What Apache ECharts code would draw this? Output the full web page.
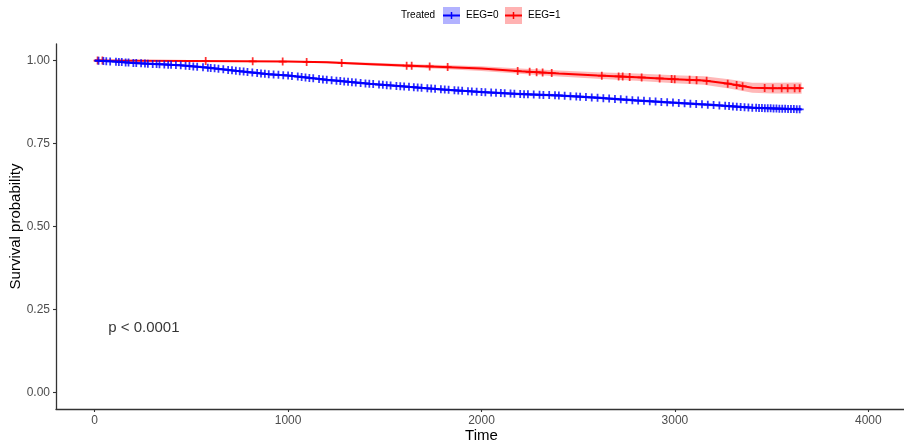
<!DOCTYPE html>
<html>
<head>
<meta charset="utf-8">
<script src="https://cdn.jsdelivr.net/npm/echarts@6/dist/echarts.min.js"></script>
<style>html,body{margin:0;padding:0;background:#fff}#c{width:904px;height:442px}</style>
</head>
<body>
<div id="c"></div>
<script>
// ---- data ----
var xTicks = [0, 1000, 2000, 3000, 4000];
var yTicks = [0, 0.25, 0.5, 0.75, 1];
var groupNames = ['EEG=0', 'EEG=1'];

var blueTime = [0, 100, 200, 300, 440, 600, 750, 900, 1000, 1200, 1420, 1600, 1800, 2000, 2200, 2400, 2600, 2800, 3000, 3200, 3400, 3550, 3655];
var blueSurv = [1.0, 0.997, 0.993, 0.99, 0.986, 0.978, 0.968, 0.959, 0.955, 0.942, 0.930, 0.922, 0.913, 0.905, 0.899, 0.895, 0.888, 0.880, 0.873, 0.866, 0.858, 0.855, 0.853];
var blueLow  = [1.0, 0.996, 0.992, 0.988, 0.984, 0.976, 0.966, 0.956, 0.952, 0.939, 0.927, 0.919, 0.910, 0.902, 0.895, 0.891, 0.884, 0.876, 0.869, 0.862, 0.854, 0.851, 0.848];
var blueHigh = [1.0, 0.998, 0.994, 0.992, 0.988, 0.980, 0.970, 0.962, 0.958, 0.945, 0.933, 0.925, 0.916, 0.908, 0.903, 0.899, 0.892, 0.884, 0.877, 0.870, 0.862, 0.859, 0.858];

var redTime = [0, 500, 1000, 1200, 1400, 1600, 1800, 2000, 2200, 2400, 2600, 2800, 3000, 3150, 3280, 3400, 3500, 3655];
var redSurv = [1.0, 0.999, 0.997, 0.995, 0.990, 0.985, 0.981, 0.976, 0.968, 0.961, 0.955, 0.950, 0.944, 0.940, 0.930, 0.918, 0.917, 0.917];
var redLow  = [1.0, 0.998, 0.995, 0.992, 0.986, 0.980, 0.975, 0.969, 0.960, 0.952, 0.945, 0.939, 0.932, 0.927, 0.916, 0.903, 0.901, 0.900];
var redHigh = [1.0, 1.0, 0.999, 0.998, 0.994, 0.990, 0.987, 0.983, 0.976, 0.970, 0.965, 0.961, 0.956, 0.953, 0.944, 0.933, 0.933, 0.934];

var blueCensor = [20, 45, 60, 80, 110, 125, 140, 160, 175, 200, 215, 240, 260, 275, 300, 320, 335, 360, 380, 395, 420, 445, 470, 490, 510, 530, 560, 585, 600, 620, 640, 665, 690, 710, 730, 750, 770, 790, 815, 840, 860, 880, 900, 925, 950, 975, 1000, 1020, 1050, 1070, 1090, 1110, 1130, 1160, 1180, 1200, 1225, 1250, 1270, 1290, 1310, 1330, 1350, 1375, 1400, 1420, 1440, 1470, 1490, 1510, 1530, 1560, 1580, 1600, 1625, 1650, 1670, 1690, 1720, 1740, 1760, 1790, 1810, 1830, 1860, 1880, 1900, 1930, 1950, 1975, 2000, 2020, 2050, 2075, 2100, 2120, 2150, 2170, 2200, 2220, 2240, 2270, 2300, 2320, 2350, 2380, 2400, 2430, 2460, 2490, 2510, 2540, 2570, 2600, 2630, 2660, 2690, 2720, 2750, 2780, 2810, 2840, 2870, 2900, 2930, 2960, 2990, 3020, 3050, 3080, 3110, 3140, 3170, 3200, 3230, 3260, 3280, 3300, 3320, 3340, 3360, 3380, 3400, 3420, 3435, 3450, 3465, 3480, 3495, 3510, 3525, 3540, 3555, 3570, 3585, 3600, 3615, 3630, 3645];
var redCensor = [15, 40, 574, 817, 972, 1096, 1277, 1613, 1639, 1732, 1825, 2187, 2249, 2285, 2316, 2363, 2622, 2709, 2730, 2766, 2828, 2921, 2983, 2999, 3076, 3112, 3164, 3273, 3319, 3350, 3464, 3506, 3552, 3583, 3619, 3645];

var pText = 'p < 0.0001';
var pPos = [70, 0.196];

// ---- helpers ----
function zip(a, b) { return a.map(function (v, i) { return [v, b[i]]; }); }
function zip3(a, b, c) { return a.map(function (v, i) { return [v, b[i], c[i]]; }); }
function onCurve(ts, time, surv) {
  return ts.map(function (t) {
    var i = 0;
    while (i < time.length - 2 && time[i + 1] < t) i++;
    var f = (t - time[i]) / (time[i + 1] - time[i]);
    return [t, surv[i] + f * (surv[i + 1] - surv[i])];
  });
}
var plusPath = 'path://M-1.1,-5 L1.1,-5 L1.1,-1.1 L5,-1.1 L5,1.1 L1.1,1.1 L1.1,5 L-1.1,5 L-1.1,1.1 L-5,1.1 L-5,-1.1 L-1.1,-1.1 Z';
var BLUE = '#0000FF', RED = '#FF0000';
var axisCol = '#333333', labCol = '#4D4D4D';
var FONT = '"Liberation Sans", Arial, sans-serif';

function band(time, lo, hi, col) {
  var rows = zip3(time, lo, hi);
  return {
    type: 'custom', data: rows, silent: true, z: 1,
    encode: { x: 0, y: [1, 2] },
    renderItem: function (params, api) {
      if (params.dataIndex !== 0) return null;
      var pts = [], i;
      for (i = 0; i < rows.length; i++) pts.push(api.coord([rows[i][0], rows[i][2]]));
      for (i = rows.length - 1; i >= 0; i--) pts.push(api.coord([rows[i][0], rows[i][1]]));
      return { type: 'polygon', shape: { points: pts }, style: { fill: col, stroke: 'none' } };
    }
  };
}

var chart = echarts.init(document.getElementById('c'), null, { renderer: 'canvas' });
var series = [
  band(redTime, redLow, redHigh, 'rgba(255,0,0,0.28)'),
  band(blueTime, blueLow, blueHigh, 'rgba(0,0,255,0.25)'),
  { type: 'line', data: zip(redTime, redSurv), symbol: 'none', lineStyle: { color: RED, width: 2 }, z: 3 },
  { type: 'scatter', data: onCurve(redCensor, redTime, redSurv), symbol: plusPath, symbolSize: 8, itemStyle: { color: RED }, z: 4 },
  { type: 'line', data: zip(blueTime, blueSurv), symbol: 'none', lineStyle: { color: BLUE, width: 2 }, z: 5 },
  { type: 'scatter', data: onCurve(blueCensor, blueTime, blueSurv), symbol: plusPath, symbolSize: 8, itemStyle: { color: BLUE }, z: 6 },
  { type: 'scatter', data: [pPos], symbolSize: 0, silent: true,
    label: { show: true, formatter: pText, position: 'right', distance: 0, color: '#000', fontSize: 15, fontFamily: FONT }, z: 7 }
];

chart.setOption({
  animation: false,
  backgroundColor: '#fff',
  grid: { left: 56, top: 44, width: 851, height: 365, containLabel: false, outerBoundsMode: 'none' },
  xAxis: {
    type: 'value', min: -200, max: 4200,
    splitLine: { show: false },
    axisLine: { show: true, onZero: false, lineStyle: { color: axisCol, width: 1.3 } },
    axisTick: { show: true, length: 3, customValues: xTicks, lineStyle: { color: axisCol, width: 1.1 } },
    axisLabel: { customValues: xTicks, color: labCol, fontSize: 12, fontFamily: FONT, margin: 6,
      formatter: function (v) { return String(v); } },
    name: 'Time', nameLocation: 'middle', nameGap: 19, nameMoveOverlap: false,
    nameTextStyle: { color: '#000', fontSize: 15, fontFamily: FONT }
  },
  yAxis: {
    type: 'value', min: -0.05, max: 1.05,
    splitLine: { show: false },
    axisLine: { show: true, onZero: false, lineStyle: { color: axisCol, width: 1.3 } },
    axisTick: { show: true, length: 3, customValues: yTicks, lineStyle: { color: axisCol, width: 1.1 } },
    axisLabel: { customValues: yTicks, color: labCol, fontSize: 12, fontFamily: FONT, margin: 6,
      formatter: function (v) { return v.toFixed(2); } },
    name: 'Survival probability', nameLocation: 'middle', nameGap: 33, nameRotate: 90, nameMoveOverlap: false,
    nameTextStyle: { color: '#000', fontSize: 15, fontFamily: FONT }
  },
  series: series,
  graphic: [
    { type: 'text', left: 401, top: 10, style: { text: 'Treated', fontSize: 10, fontFamily: FONT, fill: '#000' } },
    { type: 'rect', shape: { x: 443, y: 7, width: 17, height: 17 }, style: { fill: 'rgba(0,0,255,0.3)' } },
    { type: 'line', shape: { x1: 443, y1: 15.5, x2: 460, y2: 15.5 }, style: { stroke: BLUE, lineWidth: 2 } },
    { type: 'line', shape: { x1: 451.5, y1: 12, x2: 451.5, y2: 19 }, style: { stroke: BLUE, lineWidth: 1.5 } },
    { type: 'text', left: 466, top: 10, style: { text: groupNames[0], fontSize: 10, fontFamily: FONT, fill: '#000' } },
    { type: 'rect', shape: { x: 505, y: 7, width: 17, height: 17 }, style: { fill: 'rgba(255,0,0,0.3)' } },
    { type: 'line', shape: { x1: 505, y1: 15.5, x2: 522, y2: 15.5 }, style: { stroke: RED, lineWidth: 2 } },
    { type: 'line', shape: { x1: 513.5, y1: 12, x2: 513.5, y2: 19 }, style: { stroke: RED, lineWidth: 1.5 } },
    { type: 'text', left: 528, top: 10, style: { text: groupNames[1], fontSize: 10, fontFamily: FONT, fill: '#000' } }
  ]
});
</script>
</body>
</html>
